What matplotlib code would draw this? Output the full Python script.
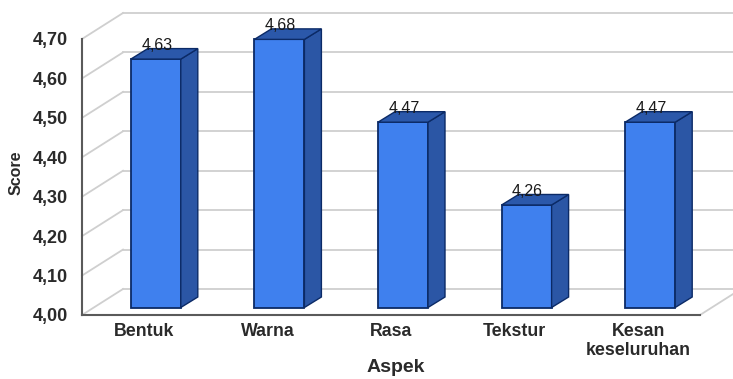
import matplotlib
matplotlib.use('Agg')
import matplotlib.pyplot as plt
from matplotlib.patches import Polygon

categories = ['Bentuk', 'Warna', 'Rasa', 'Tekstur', 'Kesan\nkeseluruhan']
scores = [4.63, 4.68, 4.47, 4.26, 4.47]
value_labels = ['4,63', '4,68', '4,47', '4,26', '4,47']
y_ticks = [4.0, 4.1, 4.2, 4.3, 4.4, 4.5, 4.6, 4.7]
y_labels = ['4,00', '4,10', '4,20', '4,30', '4,40', '4,50', '4,60', '4,70']

plt.rcParams['font.family'] = ['Liberation Sans', 'DejaVu Sans']

W, H = 733, 379
fig = plt.figure(figsize=(W / 100, H / 100), dpi=100)
# front plane of the fake 3d box, in pixels
left, right, top, bottom = 82, 700, 39, 315
ax = fig.add_axes([left / W, 1 - bottom / H, (right - left) / W, (bottom - top) / H])
ax.set_xlim(-0.5, 4.5)
ax.set_ylim(4.0, 4.7)

# pixels -> data units, depth is faked with these
ux = 5 / (right - left)
uy = 0.7 / (bottom - top)
depth_x, depth_y = 41 * ux, 26 * uy

grid_c = '#cfcfcf'
x_back_end = 4.5 + depth_x
for t in y_ticks:
    ax.plot([-0.5, -0.5 + depth_x], [t, t + depth_y], color=grid_c, lw=1.3, clip_on=False, zorder=1)
    ax.plot([-0.5 + depth_x, x_back_end], [t + depth_y, t + depth_y], color=grid_c, lw=1.3, clip_on=False, zorder=1)
ax.plot([4.5, x_back_end], [4.0, 4.0 + depth_y], color=grid_c, lw=1.3, clip_on=False, zorder=1)

# bars sit a bit behind the front plane
off_x, off_y = 12 * ux, 7.5 * uy
bar_w = 50 * ux
side_x, side_y = 17 * ux, 10.5 * uy
edge = '#0b2a66'
for i, v in enumerate(scores):
    x0 = i + off_x - bar_w / 2
    x1 = x0 + bar_w
    y0 = 4.0 + off_y
    y1 = v + off_y
    ax.add_patch(Polygon([(x0, y0), (x1, y0), (x1, y1), (x0, y1)], fc='#3f80ee', ec=edge, lw=1.3, clip_on=False, zorder=3))
    ax.add_patch(Polygon([(x1, y0), (x1 + side_x, y0 + side_y), (x1 + side_x, y1 + side_y), (x1, y1)],
                         fc='#2b56a5', ec=edge, lw=1.0, clip_on=False, zorder=3))
    ax.add_patch(Polygon([(x0, y1), (x1, y1), (x1 + side_x, y1 + side_y), (x0 + side_x, y1 + side_y)],
                         fc='#2b58aa', ec=edge, lw=1.0, clip_on=False, zorder=3))
    ax.text(i + off_x + 1 * ux, y1 + 6 * uy, value_labels[i], ha='center', va='bottom', fontsize=11.5,
            color='#1a1a1a', clip_on=False, zorder=4)

for s in ['top', 'right']:
    ax.spines[s].set_visible(False)
for s in ['left', 'bottom']:
    ax.spines[s].set_color('#5a5a5a')
    ax.spines[s].set_linewidth(1.5)
ax.patch.set_visible(False)

ax.set_xticks(range(len(categories)))
ax.set_xticklabels(categories, fontsize=12.8, fontweight='bold', color='#2a2a2a', linespacing=1.1)
ax.set_yticks(y_ticks)
ax.set_yticklabels(y_labels, fontsize=13, fontweight='bold', color='#2a2a2a')
ax.tick_params(axis='both', length=0)
ax.tick_params(axis='x', pad=6)
ax.tick_params(axis='y', pad=10)

fig.text(16 / W, 1 - 173 / H, 'Score', rotation=90, ha='center', va='center', fontsize=11.5, fontweight='bold', color='#2a2a2a')
fig.text(396 / W, 1 - 368 / H, 'Aspek', ha='center', va='center', fontsize=14, fontweight='bold', color='#2a2a2a')

fig.savefig('out.png', dpi=100)
